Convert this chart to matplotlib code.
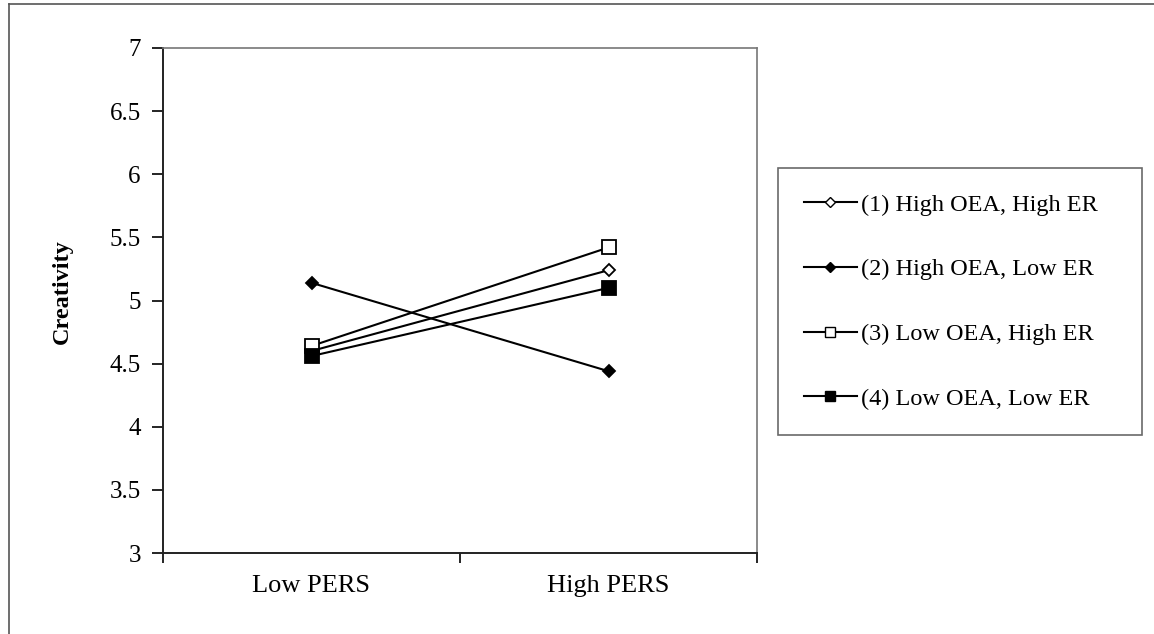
import matplotlib.pyplot as plt
from matplotlib.lines import Line2D

categories = ["Low PERS", "High PERS"]
labels = [
    "(1) High OEA, High ER",
    "(2) High OEA, Low ER",
    "(3) Low OEA, High ER",
    "(4) Low OEA, Low ER",
]
s1 = [4.60, 5.24]
s2 = [5.14, 4.44]
s3 = [4.64, 5.42]
s4 = [4.56, 5.10]
y_ticks = [3, 3.5, 4, 4.5, 5, 5.5, 6, 6.5, 7]
y_tick_labels = ["3", "3.5", "4", "4.5", "5", "5.5", "6", "6.5", "7"]

plt.rcParams["font.family"] = ["Liberation Serif", "DejaVu Serif"]

W, H = 1154, 634
fig = plt.figure(figsize=(W / 100, H / 100), dpi=100)
ax = fig.add_axes([163 / W, 1 - 553 / H, 594 / W, 505 / H])

x = list(range(len(categories)))
styles = [
    dict(marker="D", markersize=6.5, markerfacecolor="white"),
    dict(marker="D", markersize=6.5, markerfacecolor="black"),
    dict(marker="s", markersize=10.5, markerfacecolor="white"),
    dict(marker="s", markersize=10.5, markerfacecolor="black"),
]
for vals, lbl, st in zip([s1, s2, s3, s4], labels, styles):
    ax.plot(x, vals, color="black", linewidth=1.5, markeredgecolor="black",
            markeredgewidth=1.3, label=lbl, **st)

ax.set_xlim(-0.5, 1.5)
ax.set_ylim(3, 7)
ax.set_yticks(y_ticks)
ax.set_yticklabels(y_tick_labels, fontsize=18)
ax.tick_params(axis="y", direction="out", length=8, width=1.2, pad=8, colors="black")

# category boundary ticks on the x axis, labels centred between them
ax.set_xticks([-0.5, 0.5, 1.5])
ax.set_xticklabels([])
ax.tick_params(axis="x", which="major", direction="out", length=7, width=1.2)
ax.set_xticks(x, minor=True)
ax.set_xticklabels(categories, minor=True, fontsize=19)
ax.tick_params(axis="x", which="minor", length=0, pad=16)

for side in ["left", "bottom"]:
    ax.spines[side].set_linewidth(1.4)
    ax.spines[side].set_color("#222222")
for side in ["top", "right"]:
    ax.spines[side].set_linewidth(1.2)
    ax.spines[side].set_color("#777777")

ax.set_ylabel("Creativity", fontsize=17.5, fontweight="bold")
ax.yaxis.set_label_coords(-(163 - 73) / 594, (553 - 292) / 505)

handles = [
    Line2D([], [], color="black", linewidth=1.5, markeredgecolor="black",
           markeredgewidth=1.0, marker=st["marker"],
           markersize=st["markersize"] * 0.75, markerfacecolor=st["markerfacecolor"])
    for st in styles
]
leg = fig.legend(handles, labels, loc="upper left", mode="expand",
                 bbox_to_anchor=(778 / W, 1 - 435 / H, 364 / W, 267 / H),
                 fontsize=17.5, frameon=True, fancybox=False, edgecolor="#444444",
                 labelspacing=1.76, handlelength=2.2, handletextpad=0.15,
                 borderpad=1.05, borderaxespad=0)
leg.get_frame().set_linewidth(1.2)

# outer page frame
fig.add_artist(Line2D([9 / W, 9 / W], [0, 1 - 4 / H], transform=fig.transFigure,
                      color="#555555", linewidth=1.2))
fig.add_artist(Line2D([9 / W, 1], [1 - 4 / H, 1 - 4 / H], transform=fig.transFigure,
                      color="#555555", linewidth=1.2))

fig.savefig("out.png", dpi=100)
